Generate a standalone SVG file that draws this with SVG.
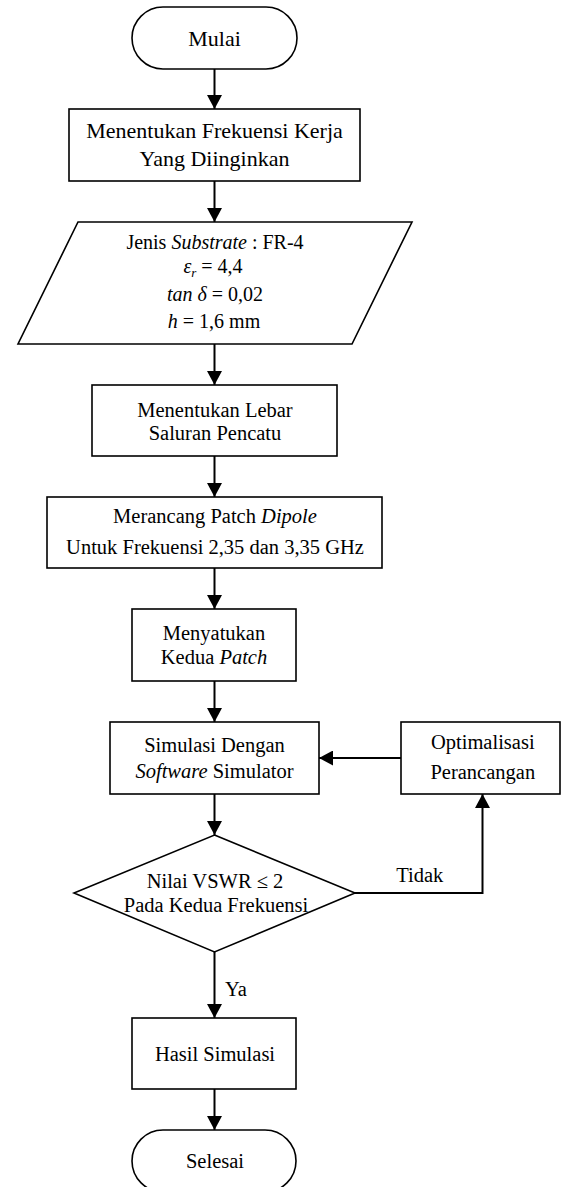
<svg xmlns="http://www.w3.org/2000/svg" width="561" height="1187" viewBox="0 0 561 1187">
<style>
.s{fill:#fff;stroke:#000;stroke-width:1.6}
.t{font-family:"Liberation Serif","Times New Roman",serif;font-size:20.5px;fill:#000;text-anchor:middle}
.b{font-size:22px}
.i{font-style:italic}
.c{fill:none;stroke:#000;stroke-width:2}
</style>
<defs>
<marker id="ah" markerUnits="userSpaceOnUse" markerWidth="15" markerHeight="15" refX="14" refY="7.5" orient="auto">
<path d="M0,0 L14,7.5 L0,15 z" fill="#000"/>
</marker>
</defs>
<rect width="561" height="1187" fill="#fff"/>
<g id="connectors">
<path class="c" d="M214.5,69 V109" marker-end="url(#ah)"/>
<path class="c" d="M214.5,181 V222" marker-end="url(#ah)"/>
<path class="c" d="M214.5,344 V385" marker-end="url(#ah)"/>
<path class="c" d="M214.5,456 V497" marker-end="url(#ah)"/>
<path class="c" d="M214.5,568 V609" marker-end="url(#ah)"/>
<path class="c" d="M214.5,681 V722" marker-end="url(#ah)"/>
<path class="c" d="M214.5,794 V835" marker-end="url(#ah)"/>
<path class="c" d="M401,758 H319" marker-end="url(#ah)"/>
<path class="c" d="M355,893 H482.5 V794" marker-end="url(#ah)"/>
<path class="c" d="M214.5,952 V1018" marker-end="url(#ah)"/>
<path class="c" d="M214.5,1089 V1130" marker-end="url(#ah)"/>
<text class="t" x="419.7" y="882">Tidak</text>
<text class="t" x="236" y="996">Ya</text>
</g>
<g id="mulai">
<rect class="s" x="132" y="7" width="165" height="62" rx="31"/>
<text class="t b" x="214.5" y="46">Mulai</text>
</g>
<g id="frekuensi">
<rect class="s" x="69" y="109" width="291" height="72"/>
<text class="t b" x="214.5" y="138">Menentukan Frekuensi Kerja</text>
<text class="t b" x="214.5" y="166">Yang Diinginkan</text>
</g>
<g id="substrate">
<polygon class="s" points="78,222 412,222 352,344 18,344"/>
<text class="t" x="215" y="249" style="font-size:20px">Jenis <tspan class="i">Substrate</tspan> : FR-4</text>
<text class="t" x="213" y="273" style="font-size:20px"><tspan class="i">ε</tspan><tspan class="i" font-size="13" dy="4">r</tspan><tspan dy="-4"> = 4,4</tspan></text>
<text class="t" x="215" y="301" style="font-size:20px"><tspan class="i">tan δ</tspan> = 0,02</text>
<text class="t" x="214" y="328" style="font-size:20px"><tspan class="i">h</tspan> = 1,6 mm</text>
</g>
<g id="lebar">
<rect class="s" x="92" y="385" width="245" height="71"/>
<text class="t" x="215" y="417">Menentukan Lebar</text>
<text class="t" x="215" y="440">Saluran Pencatu</text>
</g>
<g id="merancang">
<rect class="s" x="47" y="497" width="335" height="71"/>
<text class="t" x="215" y="523">Merancang Patch <tspan class="i">Dipole</tspan></text>
<text class="t" x="215" y="554">Untuk Frekuensi 2,35 dan 3,35 GHz</text>
</g>
<g id="menyatukan">
<rect class="s" x="132" y="609" width="164" height="72"/>
<text class="t" x="214" y="640">Menyatukan</text>
<text class="t" x="214" y="664">Kedua <tspan class="i">Patch</tspan></text>
</g>
<g id="simulasi">
<rect class="s" x="110" y="722" width="209" height="72"/>
<text class="t" x="214.5" y="752">Simulasi Dengan</text>
<text class="t" x="214.5" y="778"><tspan class="i">Software</tspan> Simulator</text>
</g>
<g id="optimalisasi">
<rect class="s" x="401" y="722" width="159" height="72"/>
<text class="t" x="482.8" y="749">Optimalisasi</text>
<text class="t" x="482.8" y="779">Perancangan</text>
</g>
<g id="vswr">
<polygon class="s" points="214.5,835 355,893 214.5,952 74,893"/>
<text class="t" x="215" y="888">Nilai VSWR ≤ 2</text>
<text class="t" x="216" y="912">Pada Kedua Frekuensi</text>
</g>
<g id="hasil">
<rect class="s" x="132" y="1018" width="164" height="71"/>
<text class="t" x="215" y="1061">Hasil Simulasi</text>
</g>
<g id="selesai">
<rect class="s" x="132" y="1130" width="164" height="62" rx="31"/>
<text class="t" x="215" y="1168">Selesai</text>
</g>
</svg>
